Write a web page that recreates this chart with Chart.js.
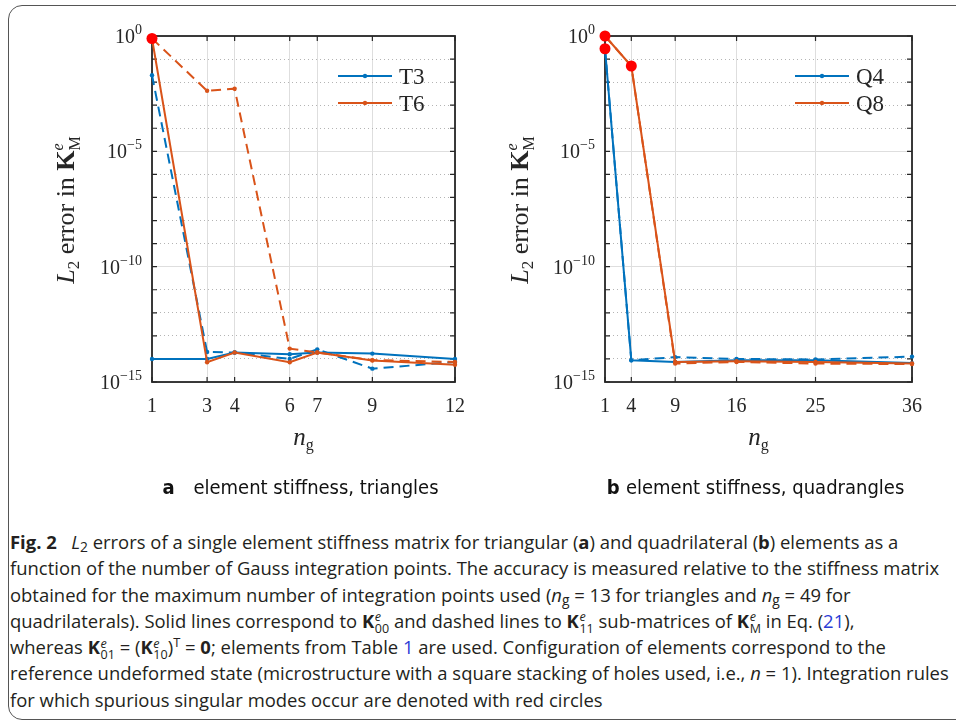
<!DOCTYPE html>
<html lang="en">
<head>
<meta charset="UTF-8" />
<title>Fig. 2 | L2 errors of element stiffness</title>
<script src="https://cdn.jsdelivr.net/npm/chart.js@4.4.0/dist/chart.umd.min.js"></script>
<style>
  body { margin: 0; width: 956px; height: 724px; overflow: hidden; background: #fff; position: relative; }
  .frame { position: absolute; left: 8px; top: 5px; width: 1000px; height: 713px; border: 1.5px solid #555; border-radius: 14px; }
  #chart-a { position: absolute; left: 0; top: 0; }
  #chart-b { position: absolute; left: 478px; top: 0; }
  .caption { position: absolute; left: 10px; top: 529px; font-family: "Open Sans", sans-serif; font-size: 18.45px; color: #231f20; white-space: nowrap; }
  .caption div { height: 26.3px; line-height: 26.3px; }
  .caption b { font-weight: 700; }
  .caption sub { font-size: 0.75em; line-height: 0; vertical-align: -0.2em; }
  .k { font-weight: 700; }
  .ss { display: inline-block; font-size: 0.68em; line-height: 0.95em; vertical-align: -0.42em; margin: -0.8em 0 -0.8em 0.05em; }
  .ss span, .ss i { display: block; }
  .link { color: #2a3cd6; }
</style>
</head>

<body>
  <div class="frame"></div>
  <canvas id="chart-a" width="478" height="510"></canvas>
  <canvas id="chart-b" width="478" height="510"></canvas>

  <!-- caption -->
  <div class="caption">
    <div><b>Fig. 2</b>&nbsp;&nbsp;&nbsp;<i>L</i><sub>2</sub> errors of a single element stiffness matrix for triangular (<b>a</b>) and quadrilateral (<b>b</b>) elements as a</div>
    <div>function of the number of Gauss integration points. The accuracy is measured relative to the stiffness matrix</div>
    <div>obtained for the maximum number of integration points used (<i>n</i><sub>g</sub> = 13 for triangles and <i>n</i><sub>g</sub> = 49 for</div>
    <div>quadrilaterals). Solid lines correspond to <span class="k">K</span><span class="ss"><i>e</i><span>00</span></span> and dashed lines to <span class="k">K</span><span class="ss"><i>e</i><span>11</span></span> sub-matrices of <span class="k">K</span><span class="ss"><i>e</i><span>M</span></span> in Eq. (<span class="link">21</span>),</div>
    <div>whereas <span class="k">K</span><span class="ss"><i>e</i><span>01</span></span> = (<span class="k">K</span><span class="ss"><i>e</i><span>10</span></span>)<sup style="font-size:0.7em;line-height:0">T</sup> = <b>0</b>; elements from Table <span class="link">1</span> are used. Configuration of elements correspond to the</div>
    <div>reference undeformed state (microstructure with a square stacking of holes used, i.e., <i>n</i> = 1). Integration rules</div>
    <div>for which spurious singular modes occur are denoted with red circles</div>
  </div>

<script>
  // --- data ---
  // (a) triangles
  const ngTri = [1, 3, 4, 6, 7, 9, 12];
  const t3K00 = [1.0e-14, 1.0e-14, 1.9e-14, 1.6e-14, 1.9e-14, 1.7e-14, 1.0e-14];
  const t3K11 = [2.0e-2, 2.0e-14, 1.9e-14, 1.0e-14, 2.6e-14, 3.8e-15, 7.4e-15];
  const t6K00 = [0.78, 7.2e-15, 1.9e-14, 7.2e-15, 1.9e-14, 8.5e-15, 5.6e-15];
  const t6K11 = [0.78, 4.2e-3, 5.2e-3, 2.8e-14, 1.9e-14, 8.9e-15, 7.4e-15];
  const singTriNg = [1];
  const singTriErr = [0.78];

  // (b) quadrangles
  const ngQuad = [1, 4, 9, 16, 25, 36];
  const q4K00 = [0.28, 8.7e-15, 7.4e-15, 8.7e-15, 8.7e-15, 6.6e-15];
  const q4K11 = [0.28, 8.7e-15, 1.2e-14, 1.0e-14, 9.5e-15, 1.26e-14];
  const q8K00 = [1.0, 0.05, 7.4e-15, 7.9e-15, 7.4e-15, 6.3e-15];
  const q8K11 = [1.0, 0.05, 6.3e-15, 7.4e-15, 6.3e-15, 6.0e-15];
  const singQuadNg = [1, 1, 4];
  const singQuadErr = [1.0, 0.28, 0.05];

  // ticks
  const xTicksTri = [1, 3, 4, 6, 7, 9, 12];
  const xTicksQuad = [1, 4, 9, 16, 25, 36];
  const decades = [1e-15, 1e-14, 1e-13, 1e-12, 1e-11, 1e-10, 1e-9, 1e-8, 1e-7, 1e-6, 1e-5, 1e-4, 1e-3, 1e-2, 1e-1, 1];
  const yTickExp = [0, -5, -10, -15];

  const BLUE = '#0072bd';
  const ORANGE = '#d95319';
  const SERIF = '"Liberation Serif", "DejaVu Serif", serif';
  const SANS_C = '"Liberation Sans Narrow", "DejaVu Sans Condensed", sans-serif';

  const pts = (xs, ys) => xs.map((x, i) => ({ x: x, y: ys[i] }));
  const isMajor = v => Math.round(Math.log10(v)) % 5 === 0;

  function series(label, xs, ys, color, dashed) {
    return {
      label: label,
      data: pts(xs, ys),
      borderColor: color,
      backgroundColor: color,
      borderWidth: 2,
      borderDash: dashed ? [10, 6] : [],
      pointRadius: 2.2,
      pointBorderWidth: 0,
      pointHoverRadius: 0,
      tension: 0,
      clip: false
    };
  }

  function redCircles(xs, ys) {
    return {
      label: 'singular',
      data: pts(xs, ys),
      showLine: false,
      backgroundColor: '#ff0000',
      borderWidth: 0,
      pointRadius: 5.5,
      pointHoverRadius: 0,
      clip: false
    };
  }

  // draw a row of text pieces with different fonts
  // a run with r[3] set is stacked with the next one (sub + sup)
  function drawRuns(ctx, runs, x, y, align) {
    const widths = runs.map(r => { ctx.font = r[1]; return ctx.measureText(r[0]).width; });
    let w = 0, held = 0;
    runs.forEach((r, i) => {
      if (r[3]) { held = widths[i]; return; }
      w += Math.max(widths[i], held); held = 0;
    });
    let cx = align === 'center' ? x - w / 2 : (align === 'right' ? x - w : x);
    held = 0;
    runs.forEach((r, i) => {
      ctx.font = r[1];
      ctx.fillText(r[0], cx, y + (r[2] || 0));
      if (r[3]) { held = widths[i]; return; }
      cx += Math.max(widths[i], held); held = 0;
    });
  }

  // matlab style box, inward ticks, labels and legend
  const matlabAxes = {
    id: 'matlabAxes',
    beforeDatasetsDraw(chart, args, o) {
      const { ctx, chartArea: a, scales } = chart;
      ctx.save();
      ctx.strokeStyle = '#262626';
      ctx.lineWidth = 1.8;
      ctx.strokeRect(a.left, a.top, a.right - a.left, a.bottom - a.top);
      ctx.lineWidth = 1.2;
      ctx.beginPath();
      decades.forEach(v => {
        const y = scales.y.getPixelForValue(v);
        ctx.moveTo(a.left, y); ctx.lineTo(a.left + 5, y);
        ctx.moveTo(a.right, y); ctx.lineTo(a.right - 5, y);
      });
      o.xTicks.forEach(v => {
        const x = scales.x.getPixelForValue(v);
        ctx.moveTo(x, a.bottom); ctx.lineTo(x, a.bottom - 5);
        ctx.moveTo(x, a.top); ctx.lineTo(x, a.top + 5);
      });
      ctx.stroke();
      ctx.restore();
    },
    afterDraw(chart, args, o) {
      const { ctx, chartArea: a, scales } = chart;
      ctx.save();
      ctx.fillStyle = '#262626';
      ctx.textBaseline = 'alphabetic';

      // y tick labels 10^k
      yTickExp.forEach(e => {
        const y = scales.y.getPixelForValue(Math.pow(10, e));
        drawRuns(ctx, [
          ['10', '20px ' + SERIF, 0],
          [e === 0 ? '0' : '\u2212' + (-e), '14px ' + SERIF, -9]
        ], a.left - 10, y + 7, 'right');
      });

      // y axis label
      ctx.save();
      ctx.translate(o.yLabelX, (a.top + a.bottom) / 2 + 1);
      ctx.rotate(-Math.PI / 2);
      drawRuns(ctx, [
        ['L', 'italic 26px ' + SERIF, 0],
        ['2', '17px ' + SERIF, 5],
        [' error in ', '26px ' + SERIF, 0],
        ['K', 'bold 26px ' + SERIF, 0],
        ['M', '16px ' + SERIF, 6, true],
        ['e', 'italic 16px ' + SERIF, -11]
      ], 0, 8, 'center');
      ctx.restore();

      // x axis label
      const cx = (a.left + a.right) / 2;
      drawRuns(ctx, [
        ['n', 'italic 25px ' + SERIF, 0],
        ['g', '16px ' + SERIF, 5]
      ], cx, 445, 'center');

      // panel subtitle
      ctx.fillStyle = '#111';
      drawRuns(ctx, [
        [o.panel, 'bold 20px ' + SANS_C, 0],
        [o.subtitle, '20px ' + SANS_C, 0]
      ], cx - 3, 494, 'center');

      // legend
      o.legend.forEach((item, i) => {
        const y = a.top + 40 + i * 27;
        const x0 = a.right - 117, x1 = a.right - 63;
        ctx.strokeStyle = item[1];
        ctx.lineWidth = 2.2;
        ctx.beginPath(); ctx.moveTo(x0, y); ctx.lineTo(x1, y); ctx.stroke();
        ctx.fillStyle = item[1];
        ctx.beginPath(); ctx.arc((x0 + x1) / 2, y, 2.2, 0, Math.PI * 2); ctx.fill();
        ctx.fillStyle = '#262626';
        ctx.font = '23px ' + SERIF;
        ctx.fillText(item[0], a.right - 56, y + 8);
      });
      ctx.restore();
    }
  };

  function makeChart(id, datasets, xTicks, xMax, yAxisWidth, padRight, opts) {
    return new Chart(document.getElementById(id).getContext('2d'), {
      type: 'line',
      data: { datasets: datasets },
      plugins: [matlabAxes],
      options: {
        responsive: false,
        animation: false,
        events: [],
        layout: { padding: { top: 36, right: padRight, left: 0, bottom: 88 } },
        scales: {
          x: {
            type: 'linear',
            min: 1,
            max: xMax,
            afterBuildTicks: s => { s.ticks = xTicks.map(v => ({ value: v })); },
            afterFit: s => { s.height = 40; },
            ticks: { font: { family: SERIF, size: 20 }, color: '#262626', padding: 13, maxRotation: 0, autoSkip: false },
            grid: { color: '#dedede', lineWidth: 1, drawTicks: false },
            border: { display: false }
          },
          y: {
            type: 'logarithmic',
            min: 1e-15,
            max: 1,
            afterBuildTicks: s => { s.ticks = decades.map(v => ({ value: v })); },
            afterFit: s => { s.width = yAxisWidth; },
            ticks: { display: false },
            grid: {
              drawTicks: false,
              lineWidth: 1,
              color: c => (c.tick && isMajor(c.tick.value)) ? '#dedede' : '#b4b4b4'
            },
            border: {
              display: false,
              dash: c => (c.tick && isMajor(c.tick.value)) ? [] : [1, 3]
            }
          }
        },
        plugins: {
          legend: { display: false },
          tooltip: { enabled: false },
          matlabAxes: opts
        }
      }
    });
  }

  makeChart('chart-a', [
    redCircles(singTriNg, singTriErr),
    series('T6 K11', ngTri, t6K11, ORANGE, true),
    series('T6', ngTri, t6K00, ORANGE, false),
    series('T3 K11', ngTri, t3K11, BLUE, true),
    series('T3', ngTri, t3K00, BLUE, false)
  ], xTicksTri, 12, 152, 19, {
    xTicks: xTicksTri,
    yLabelX: 66,
    panel: 'a   ',
    subtitle: 'element stiffness, triangles',
    legend: [['T3', BLUE], ['T6', ORANGE]]
  });

  makeChart('chart-b', [
    redCircles(singQuadNg, singQuadErr),
    series('Q8 K11', ngQuad, q8K11, ORANGE, true),
    series('Q8', ngQuad, q8K00, ORANGE, false),
    series('Q4 K11', ngQuad, q4K11, BLUE, true),
    series('Q4', ngQuad, q4K00, BLUE, false)
  ], xTicksQuad, 36, 127, 44, {
    xTicks: xTicksQuad,
    yLabelX: 42,
    panel: 'b ',
    subtitle: 'element stiffness, quadrangles',
    legend: [['Q4', BLUE], ['Q8', ORANGE]]
  });
</script>
</body>
</html>
